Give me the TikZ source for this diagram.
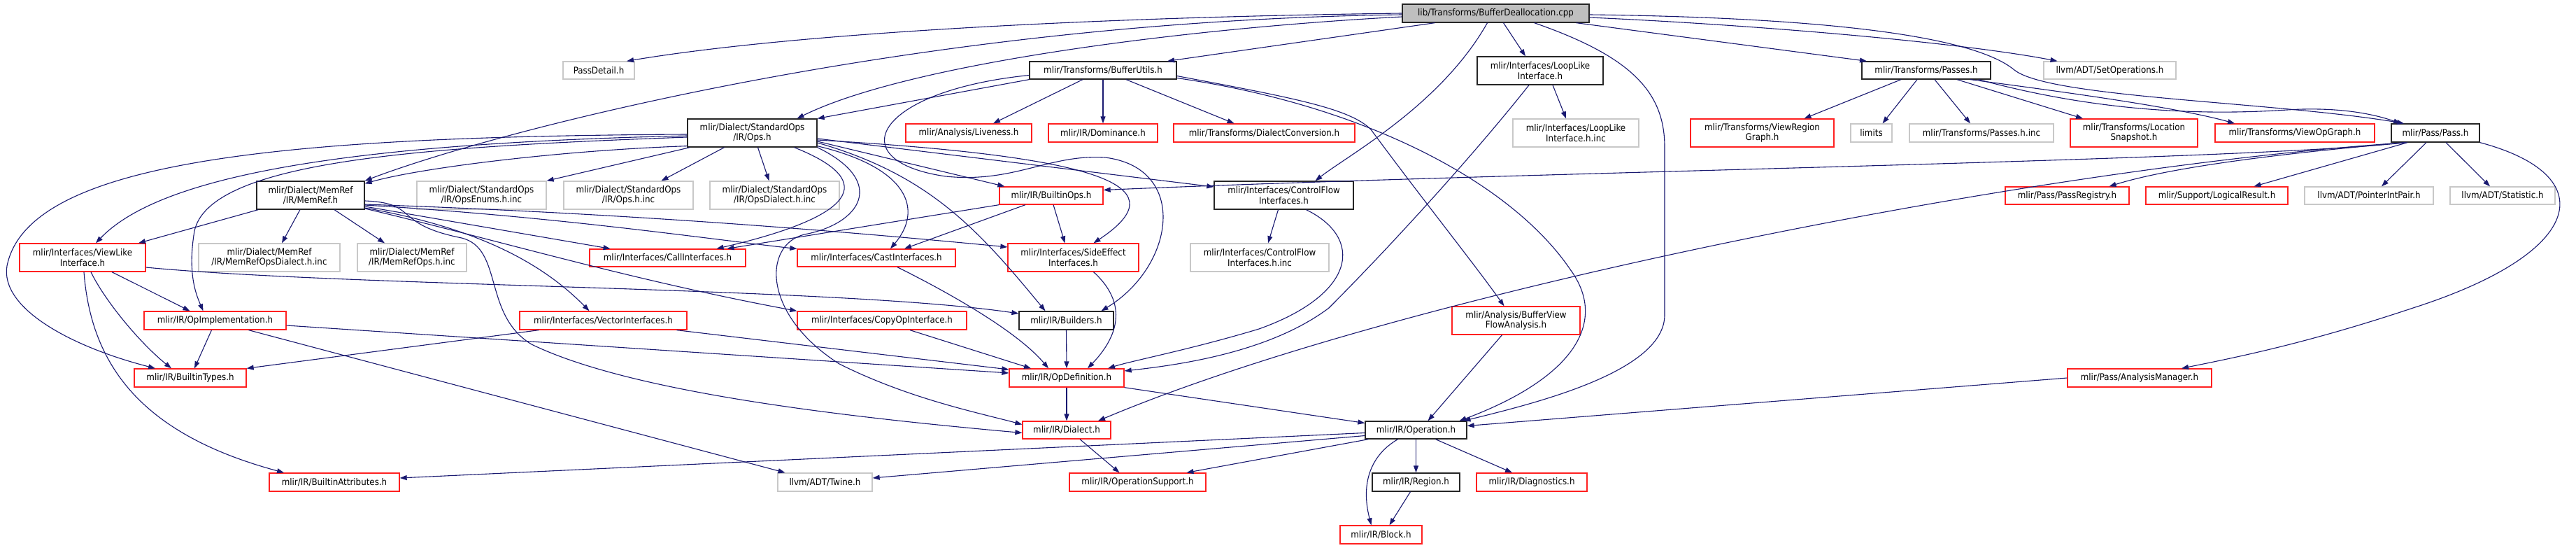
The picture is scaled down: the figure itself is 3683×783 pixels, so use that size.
\documentclass[tikz,border=0pt]{standalone}
\usepackage{fontspec}
\setmainfont{DejaVu Sans Condensed}
\usetikzlibrary{arrows.meta}

\definecolor{edgeblue}{HTML}{191970}
\definecolor{rootfill}{HTML}{BFBFBF}
\definecolor{grayline}{HTML}{C8C8C8}
\definecolor{redline}{HTML}{FF2020}

\tikzset{
  file/.style={rectangle, draw, line width=1.3pt, inner sep=0pt, align=center,
    font=\fontsize{13.2}{14.7}\selectfont},
  hdrbox/.style={file, draw=black!85},
  redbox/.style={file, draw=redline},
  extbox/.style={file, draw=grayline},
  rootbox/.style={file, draw=black!85, fill=rootfill},
  sz/.style 2 args={minimum width=#1pt, minimum height=#2pt},
  dep/.style={draw=edgeblue, line width=1.1pt, -{Triangle[length=10pt,width=7pt]}}
}

\begin{document}
\begin{tikzpicture}[x=1pt,y=-1pt]
\useasboundingbox (0,0) rectangle (3683,783);

% row 0
\node[rootbox, sz={267}{26}] (root) at (2138.5,19) {lib/Transforms/BufferDeallocation.cpp};

% row 1
\node[extbox, sz={102}{25}] (passdetail) at (856,100.5) {PassDetail.h};
\node[hdrbox, sz={210}{25}] (bufutils) at (1577,100.5) {mlir/Transforms/BufferUtils.h};
\node[hdrbox, sz={180}{40}] (looplike) at (2202,101) {mlir/Interfaces/LoopLike\\Interface.h};
\node[hdrbox, sz={184}{25}] (passes) at (2754,100.5) {mlir/Transforms/Passes.h};
\node[extbox, sz={189}{25}] (setops) at (3016.5,100.5) {llvm/ADT/SetOperations.h};

% row 2
\node[hdrbox, sz={185}{40}] (stdops) at (1075.5,190) {mlir/Dialect/StandardOps\\/IR/Ops.h};
\node[redbox, sz={180}{26}] (liveness) at (1385,190) {mlir/Analysis/Liveness.h};
\node[redbox, sz={156}{26}] (dominance) at (1577,190) {mlir/IR/Dominance.h};
\node[redbox, sz={259}{26}] (dialconv) at (1807.5,190) {mlir/Transforms/DialectConversion.h};
\node[extbox, sz={180}{40}] (looplikeinc) at (2253,190) {mlir/Interfaces/LoopLike\\Interface.h.inc};
\node[redbox, sz={205}{40}] (viewregion) at (2519.5,190) {mlir/Transforms/ViewRegion\\Graph.h};
\node[extbox, sz={59}{26}] (limits) at (2675.5,190) {limits};
\node[extbox, sz={206}{26}] (passesinc) at (2833,190) {mlir/Transforms/Passes.h.inc};
\node[redbox, sz={182}{40}] (locsnap) at (3051,190) {mlir/Transforms/Location\\Snapshot.h};
\node[redbox, sz={228}{26}] (viewopgraph) at (3281,190) {mlir/Transforms/ViewOpGraph.h};
\node[hdrbox, sz={126}{26}] (pass) at (3482,190) {mlir/Pass/Pass.h};

% row 3
\node[hdrbox, sz={154}{40}] (memref) at (444,279) {mlir/Dialect/MemRef\\/IR/MemRef.h};
\node[extbox, sz={185}{40}] (opsenums) at (688.5,279) {mlir/Dialect/StandardOps\\/IR/OpsEnums.h.inc};
\node[extbox, sz={185}{40}] (opsinc) at (898.5,279) {mlir/Dialect/StandardOps\\/IR/Ops.h.inc};
\node[extbox, sz={185}{40}] (opsdialect) at (1107.5,279) {mlir/Dialect/StandardOps\\/IR/OpsDialect.h.inc};
\node[redbox, sz={148}{25}] (builtinops) at (1503,279.5) {mlir/IR/BuiltinOps.h};
\node[hdrbox, sz={199}{40}] (controlflow) at (1835.5,279) {mlir/Interfaces/ControlFlow\\Interfaces.h};
\node[redbox, sz={177}{25}] (passreg) at (2955.5,279.5) {mlir/Pass/PassRegistry.h};
\node[redbox, sz={203}{25}] (logicalres) at (3169.5,279.5) {mlir/Support/LogicalResult.h};
\node[extbox, sz={184}{25}] (ptrintpair) at (3387,279.5) {llvm/ADT/PointerIntPair.h};
\node[extbox, sz={150}{25}] (statistic) at (3578,279.5) {llvm/ADT/Statistic.h};

% row 4
\node[redbox, sz={180}{40}] (viewlike) at (118,368) {mlir/Interfaces/ViewLike\\Interface.h};
\node[extbox, sz={202}{40}] (memrefdialect) at (385,368) {mlir/Dialect/MemRef\\/IR/MemRefOpsDialect.h.inc};
\node[extbox, sz={156}{40}] (memrefops) at (589,368) {mlir/Dialect/MemRef\\/IR/MemRefOps.h.inc};
\node[redbox, sz={223}{25}] (callif) at (954.5,368.5) {mlir/Interfaces/CallInterfaces.h};
\node[redbox, sz={226}{25}] (castif) at (1253,368.5) {mlir/Interfaces/CastInterfaces.h};
\node[redbox, sz={187}{40}] (sideeffect) at (1534.5,368) {mlir/Interfaces/SideEffect\\Interfaces.h};
\node[extbox, sz={198}{40}] (cfinc) at (1801,368) {mlir/Interfaces/ControlFlow\\Interfaces.h.inc};

% row 5
\node[redbox, sz={203}{26}] (opimpl) at (307.5,458) {mlir/IR/OpImplementation.h};
\node[redbox, sz={239}{26}] (vectorif) at (862.5,458) {mlir/Interfaces/VectorInterfaces.h};
\node[redbox, sz={242}{26}] (copyop) at (1261,458) {mlir/Interfaces/CopyOpInterface.h};
\node[hdrbox, sz={135}{26}] (builders) at (1524.5,458) {mlir/IR/Builders.h};
\node[redbox, sz={183}{40}] (bufview) at (2167.5,458) {mlir/Analysis/BufferView\\FlowAnalysis.h};

% row 6
\node[redbox, sz={160}{26}] (builtintypes) at (272,540) {mlir/IR/BuiltinTypes.h};
\node[redbox, sz={164}{26}] (opdef) at (1525,540) {mlir/IR/OpDefinition.h};
\node[redbox, sz={206}{26}] (analysismgr) at (3059,540) {mlir/Pass/AnalysisManager.h};

% row 7
\node[redbox, sz={126}{25}] (dialect) at (1525,614.5) {mlir/IR/Dialect.h};
\node[hdrbox, sz={145}{25}] (operation) at (2024.5,614.5) {mlir/IR/Operation.h};

% row 8
\node[redbox, sz={186}{26}] (builtinattr) at (478,689) {mlir/IR/BuiltinAttributes.h};
\node[extbox, sz={135}{26}] (twine) at (1179.5,689) {llvm/ADT/Twine.h};
\node[redbox, sz={195}{26}] (opsupport) at (1626.5,689) {mlir/IR/OperationSupport.h};
\node[hdrbox, sz={125}{26}] (region) at (2024.5,689) {mlir/IR/Region.h};
\node[redbox, sz={158}{26}] (diagnostics) at (2190,689) {mlir/IR/Diagnostics.h};

% row 9
\node[redbox, sz={117}{26}] (block) at (1974.5,764) {mlir/IR/Block.h};

% includes of the .cpp file
\draw[dep] (root.west) .. controls (1600,24) and (1150,45) .. ([xshift=40pt]passdetail.north);
\draw[dep] ([yshift=-2pt]root.west) .. controls (1300,30) and (700,190) .. (memref.north east);
\draw[dep] ([yshift=-5pt]root.west) .. controls (1700,40) and (1300,90) .. ([xshift=64pt]stdops.north);
\draw[dep] ([xshift=-87pt]root.south) -- ([xshift=92pt]bufutils.north);
\draw[dep] ([xshift=-12pt]root.south) .. controls (2060,150) and (1930,220) .. ([xshift=45pt]controlflow.north);
\draw[dep] ([xshift=11pt]root.south) -- ([xshift=-21pt]looplike.north);
\draw[dep] ([xshift=55pt]root.south) .. controls (2330,80) and (2380,130) .. (2380,210) -- (2380,450)
  .. controls (2380,530) and (2200,575) .. ([xshift=68pt]operation.north);
\draw[dep] ([xshift=115pt]root.south) -- ([xshift=-85pt]passes.north);
\draw[dep] ([yshift=-6pt]root.east) .. controls (2500,35) and (2800,60) .. ([xshift=-75pt]setops.north);
\draw[dep] ([yshift=-2pt]root.east) .. controls (2600,25) and (2820,50) .. (2880,100)
  .. controls (2930,140) and (3250,145) .. ([xshift=-45pt]pass.north);

% BufferUtils.h
\draw[dep] (bufutils.south west) -- (stdops.north east);
\draw[dep] ([xshift=-29pt]bufutils.south) -- ([xshift=35pt]liveness.north);
\draw[dep] (bufutils.south) -- (dominance.north);
\draw[dep] ([xshift=33pt]bufutils.south) -- ([xshift=-43pt]dialconv.north);
\draw[dep] ([yshift=-8pt]bufutils.east) .. controls (1850,140) and (1930,155) .. (1960,185)
  .. controls (2030,280) and (2110,380) .. ([xshift=-17pt]bufview.north);
\draw[dep] ([yshift=-11pt]bufutils.east) .. controls (1950,150) and (2160,260) .. (2245,385)
  .. controls (2300,460) and (2250,540) .. ([xshift=62pt]operation.north);
\draw[dep] ([yshift=-7pt]bufutils.west) .. controls (1250,130) and (1200,230) .. (1352,252)
  .. controls (1450,262) and (1500,220) .. (1580,225)
  .. controls (1700,240) and (1680,380) .. ([xshift=50pt]builders.north);

% StandardOps/IR/Ops.h
\draw[dep] ([yshift=2pt]stdops.south west) .. controls (800,215) and (600,240) .. ([yshift=-4pt]memref.north east);
\draw[dep] ([yshift=-4pt]stdops.west) .. controls (500,205) and (230,250) .. ([xshift=19pt]viewlike.north);
\draw[dep] ([yshift=-6pt]stdops.west) .. controls (600,210) and (300,230) .. (278,330)
  .. controls (268,390) and (280,420) .. ([xshift=-17pt]opimpl.north);
\draw[dep] ([yshift=-2pt]stdops.west) .. controls (400,195) and (40,230) .. (10,380)
  .. controls (0,440) and (100,495) .. ([xshift=-50pt]builtintypes.north);
\draw[dep] ([xshift=4pt]stdops.south west) -- (opsenums.north east);
\draw[dep] ([xshift=-40pt]stdops.south) -- ([xshift=47pt]opsinc.north);
\draw[dep] ([xshift=8pt]stdops.south) -- ([xshift=-8pt]opsdialect.north);
\draw[dep] ([xshift=60pt]stdops.south) .. controls (1260,260) and (1220,310) .. ([xshift=70pt]callif.north);
\draw[dep] ([yshift=2pt]stdops.south east) .. controls (1300,240) and (1320,300) .. ([xshift=20pt]castif.north);
\draw[dep] (stdops.south east) .. controls (1270,260) and (1230,320) .. (1150,335)
  .. controls (1090,350) and (1090,450) .. (1200,520)
  .. controls (1300,570) and (1400,590) .. ([yshift=8pt]dialect.west);
\draw[dep] ([yshift=-14pt]stdops.east) .. controls (1330,250) and (1400,330) .. ([xshift=-30pt]builders.north);
\draw[dep] ([yshift=-10pt]stdops.east) .. controls (1600,225) and (1680,270) .. ([xshift=29pt]sideeffect.north);
\draw[dep] ([yshift=-8pt]stdops.east) -- ([yshift=12pt]controlflow.west);
\draw[dep] ([yshift=-12pt]stdops.east) -- ([xshift=8pt]builtinops.north west);

% MemRef/IR/MemRef.h
\draw[dep] ([xshift=3pt]memref.south west) -- ([xshift=80pt]viewlike.north);
\draw[dep] ([xshift=-15pt]memref.south) -- ([xshift=18pt]memrefdialect.north);
\draw[dep] ([xshift=34pt]memref.south) -- ([xshift=-39pt]memrefops.north);
\draw[dep] ([yshift=-13pt]memref.east) .. controls (900,305) and (1200,330) .. ([yshift=15pt]sideeffect.west);
\draw[dep] ([yshift=-14pt]memref.east) .. controls (800,310) and (1000,340) .. ([yshift=13pt]castif.west);
\draw[dep] ([yshift=-16pt]memref.east) -- ([xshift=-82pt]callif.north);
\draw[dep] ([yshift=-18pt]memref.east) .. controls (650,320) and (760,360) .. ([xshift=-20pt]vectorif.north);
\draw[dep] ([yshift=-19pt]memref.east) .. controls (700,340) and (900,400) .. (copyop.north west);
\draw[dep] ([yshift=-8pt]memref.east) .. controls (600,290) and (560,320) .. (660,340)
  .. controls (720,355) and (690,450) .. (760,492)
  .. controls (900,560) and (1200,595) .. ([yshift=-4pt]dialect.west);

% ViewLikeInterface.h
\draw[dep] ([xshift=42pt]viewlike.south) -- ([xshift=-36pt]opimpl.north);
\draw[dep] ([xshift=12pt]viewlike.south) .. controls (150,430) and (200,490) .. ([xshift=-27pt]builtintypes.north);
\draw[dep] ([xshift=2pt]viewlike.south) .. controls (130,520) and (200,620) .. ([xshift=-72pt]builtinattr.north);
\draw[dep] ([yshift=-14pt]viewlike.east) .. controls (500,410) and (1200,410) .. ([yshift=10pt]builders.west);

% OpImplementation.h and the interfaces
\draw[dep] ([xshift=-5pt]opimpl.south) -- ([xshift=6pt]builtintypes.north);
\draw[dep] ([yshift=-7pt]opimpl.east) -- ([yshift=7pt]opdef.west);
\draw[dep] ([xshift=48pt]opimpl.south) -- ([xshift=-57pt]twine.north);
\draw[dep] ([xshift=28pt]vectorif.south west) -- (builtintypes.north east);
\draw[dep] ([xshift=105pt]vectorif.south) -- ([yshift=12pt]opdef.west);
\draw[dep] ([xshift=40pt]copyop.south) -- ([xshift=-51pt]opdef.north);
\draw[dep] ([xshift=30pt]castif.south) .. controls (1380,430) and (1460,480) .. ([xshift=-26pt]opdef.north);
\draw[dep] ([xshift=29pt]sideeffect.south) .. controls (1620,440) and (1590,490) .. ([xshift=30pt]opdef.north);
\draw[dep] (builders.south) -- (opdef.north);
\draw[dep] ([xshift=-8pt]controlflow.south) -- ([xshift=12pt]cfinc.north);
\draw[dep] ([xshift=32pt]controlflow.south) .. controls (1950,340) and (1940,420) .. (1800,470)
  .. controls (1700,500) and (1620,515) .. ([xshift=59pt]opdef.north);
\draw[dep] ([xshift=18pt]looplike.south) -- ([xshift=-14pt]looplikeinc.north);
\draw[dep] ([xshift=-16pt]looplike.south) .. controls (2100,230) and (1980,360) .. (1900,440)
  .. controls (1820,500) and (1700,520) .. ([yshift=10pt]opdef.east);

% BuiltinOps.h
\draw[dep] (builtinops.south west) -- ([xshift=85pt]callif.north);
\draw[dep] ([xshift=-37pt]builtinops.south) -- ([xshift=40pt]castif.north);
\draw[dep] ([xshift=3pt]builtinops.south) -- ([xshift=-12pt]sideeffect.north);

% OpDefinition.h, Dialect.h, Operation.h
\draw[dep] (opdef.south) -- (dialect.north);
\draw[dep] (opdef.south east) -- ([yshift=10pt]operation.west);
\draw[dep] ([xshift=19pt]dialect.south) -- ([xshift=-26pt]opsupport.north);
\draw[dep] ([yshift=-4pt]operation.west) -- ([yshift=6pt]builtinattr.east);
\draw[dep] ([yshift=-8pt]operation.west) -- ([yshift=6pt]twine.east);
\draw[dep] ([xshift=5pt]operation.south west) -- ([xshift=70pt]opsupport.north);
\draw[dep] (operation.south) -- (region.north);
\draw[dep] ([xshift=-26pt]operation.south) .. controls (1960,650) and (1945,690) .. ([xshift=-14pt]block.north);
\draw[dep] ([xshift=28pt]operation.south) -- ([xshift=-28pt]diagnostics.north);
\draw[dep] ([xshift=-8pt]region.south) -- ([xshift=12pt]block.north);
\draw[dep] ([xshift=-20pt]bufview.south) -- ([xshift=17pt]operation.north);
\draw[dep] (analysismgr.west) -- ([yshift=6pt]operation.east);

% Pass/Pass.h
\draw[dep] ([xshift=-42pt]pass.south) .. controls (3200,230) and (2200,245) .. ([yshift=8pt]builtinops.east);
\draw[dep] ([xshift=-42pt]pass.south) .. controls (2900,240) and (2000,420) .. ([xshift=45pt]dialect.north);
\draw[dep] ([xshift=-42pt]pass.south) .. controls (3250,220) and (3100,240) .. ([xshift=60pt]passreg.north);
\draw[dep] ([xshift=-40pt]pass.south) -- ([xshift=53pt]logicalres.north);
\draw[dep] ([xshift=-13pt]pass.south) -- ([xshift=18pt]ptrintpair.north);
\draw[dep] ([xshift=15pt]pass.south) -- ([xshift=-18pt]statistic.north);
\draw[dep] (pass.south east) .. controls (3720,250) and (3700,360) .. (3450,440)
  .. controls (3300,490) and (3200,510) .. ([xshift=60pt]analysismgr.north);

% Transforms/Passes.h
\draw[dep] ([xshift=-36pt]passes.south) -- ([xshift=60pt]viewregion.north);
\draw[dep] ([xshift=-13pt]passes.south) -- ([xshift=16pt]limits.north);
\draw[dep] ([xshift=12pt]passes.south) -- ([xshift=-16pt]passesinc.north);
\draw[dep] ([xshift=44pt]passes.south) -- ([xshift=-73pt]locsnap.north);
\draw[dep] ([xshift=63pt]passes.south) .. controls (2900,125) and (3100,150) .. ([xshift=-86pt]viewopgraph.north);
\draw[dep] ([xshift=75pt]passes.south) .. controls (3000,160) and (3150,165) .. (3270,157)
  .. controls (3350,152) and (3400,165) .. ([xshift=-50pt]pass.north);
\end{tikzpicture}
\end{document}
